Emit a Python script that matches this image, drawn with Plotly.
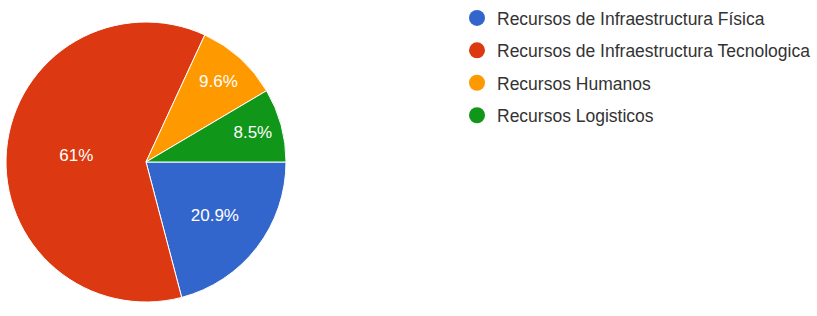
import plotly.graph_objects as go

labels = ["Recursos de Infraestructura Física",
          "Recursos de Infraestructura Tecnologica",
          "Recursos Humanos",
          "Recursos Logisticos"]
values = [20.9, 61.0, 9.6, 8.5]
colors = ["#3366cc", "#dc3912", "#ff9900", "#109618"]

FONT = "Arial, Liberation Sans, sans-serif"

fig = go.Figure()
fig.add_trace(go.Pie(
    labels=labels, values=values, sort=False, direction="clockwise", rotation=90,
    marker=dict(colors=colors, line=dict(color="white", width=1)),
    textinfo="percent", textposition="inside", insidetextorientation="horizontal",
    textfont=dict(color="white", size=17, family=FONT),
    domain=dict(x=[6/817, 286/817], y=[0, 308/316]),
    showlegend=False, hoverinfo="label+percent",
))
for lab, col in zip(labels, colors):
    fig.add_trace(go.Scatter(
        x=[None], y=[None], mode="markers", name=lab, legendgroup=lab,
        marker=dict(symbol="circle", size=16, color=col), showlegend=True,
    ))

fig.update_layout(
    width=817, height=316, margin=dict(l=0, r=0, t=0, b=0),
    paper_bgcolor="white", plot_bgcolor="white",
    xaxis=dict(visible=False), yaxis=dict(visible=False),
    legend=dict(x=457/817, y=1, xanchor="left", yanchor="top",
                font=dict(size=17.5, color="#333333", family=FONT),
                tracegroupgap=6.7, itemsizing="trace", bgcolor="rgba(0,0,0,0)"),
)
fig.write_html("out.html", config={"displayModeBar": False},
               post_script="document.body.style.margin='0';document.body.style.overflow='hidden';")
